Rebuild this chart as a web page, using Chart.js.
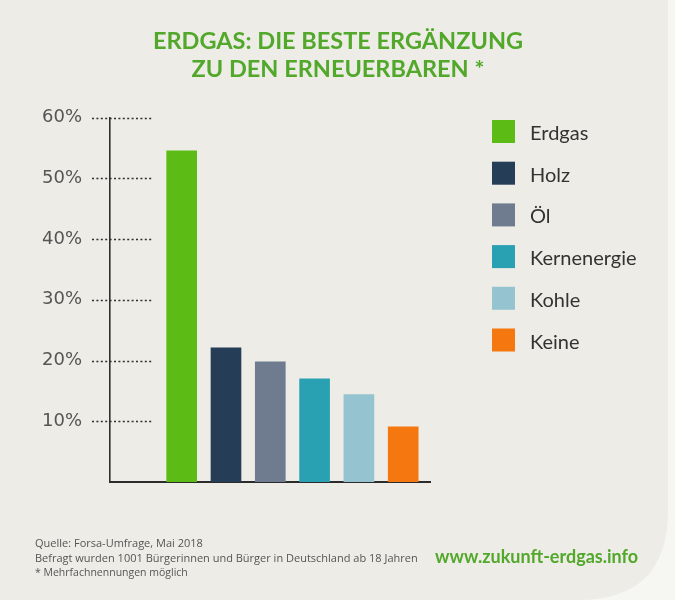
<!DOCTYPE html>
<html>
<head>
<meta charset="utf-8">
<script src="https://cdn.jsdelivr.net/npm/chart.js@4.4.0/dist/chart.umd.min.js"></script>
<style>
  html, body { margin: 0; padding: 0; background: #f6f6f3; }
  #wrap { position: relative; width: 675px; height: 600px; }
</style>
</head>
<body>
<div id="wrap"><canvas id="chart"></canvas></div>
<script>
const categories = ['Erdgas', 'Holz', 'Öl', 'Kernenergie', 'Kohle', 'Keine'];
const shares = [54.5, 22.1, 19.8, 17.0, 14.4, 9.1];
const barColors = ['#5dbb16', '#263d57', '#6f7c90', '#2aa1b2', '#95c4d0', '#f4780f'];
const tickLabels = ['', '10%', '20%', '30%', '40%', '50%', '60%'];
const titleLines = ['ERDGAS: DIE BESTE ERGÄNZUNG', 'ZU DEN ERNEUERBAREN *'];
const footnotes = [
    'Quelle: Forsa-Umfrage, Mai 2018',
    'Befragt wurden 1001 Bürgerinnen und Bürger in Deutschland ab 18 Jahren',
    '* Mehrfachnennungen möglich'
];
const sourceUrl = 'www.zukunft-erdgas.info';

const GREEN_TEXT = '#52a82a';

// beige card with a rounded bottom-right corner
const backgroundPlugin = {
    id: 'cardBackground',
    beforeDraw(chart) {
        const ctx = chart.ctx;
        const w = 668, h = 600, r = 90;
        ctx.save();
        ctx.fillStyle = '#f6f6f3';
        ctx.fillRect(0, 0, chart.width, chart.height);
        ctx.fillStyle = '#edece6';
        ctx.beginPath();
        ctx.moveTo(0, 0);
        ctx.lineTo(w, 0);
        ctx.lineTo(w, h - r);
        ctx.quadraticCurveTo(w, h, w - r, h);
        ctx.lineTo(0, h);
        ctx.closePath();
        ctx.fill();
        ctx.restore();
    }
};

// short dotted grid lines around the y axis
const shortGridPlugin = {
    id: 'shortGrid',
    beforeDatasetsDraw(chart) {
        const ctx = chart.ctx;
        const y = chart.scales.y;
        const left = chart.chartArea.left;
        ctx.save();
        ctx.strokeStyle = '#2f2f2f';
        ctx.lineWidth = 1.6;
        ctx.setLineDash([2, 2.4]);
        y.ticks.forEach(t => {
            if (t.value === 0) return;
            const py = Math.round(y.getPixelForValue(t.value)) + 0.5;
            ctx.beginPath();
            ctx.moveTo(left - 18, py);
            ctx.lineTo(left + 42, py);
            ctx.stroke();
        });
        ctx.restore();
    }
};

// title, legend and footer texts
const textPlugin = {
    id: 'texts',
    afterDraw(chart) {
        const ctx = chart.ctx;
        ctx.save();
        ctx.textBaseline = 'alphabetic';

        ctx.fillStyle = GREEN_TEXT;
        ctx.font = 'bold 23.5px Lato';
        ctx.textAlign = 'center';
        ctx.fillText(titleLines[0], 338, 49);
        ctx.fillText(titleLines[1], 338, 77);

        ctx.textAlign = 'left';
        ctx.font = '20px Lato';
        chart.data.datasets.forEach((ds, i) => {
            const top = 120 + i * 41.7;
            ctx.fillStyle = ds.backgroundColor;
            ctx.fillRect(492, top, 23, 23);
            ctx.fillStyle = '#333333';
            ctx.fillText(ds.label, 530, top + 20);
        });

        ctx.fillStyle = '#555555';
        ctx.font = '11px "Open Sans"';
        ctx.fillText(footnotes[0], 35, 547);
        ctx.fillText(footnotes[1], 35, 562);
        ctx.font = '10.5px "Open Sans"';
        ctx.fillText(footnotes[2], 35, 576);

        ctx.fillStyle = GREEN_TEXT;
        ctx.font = 'bold 18px Lato';
        ctx.fillText(sourceUrl, 435, 562.5);
        ctx.restore();
    }
};

new Chart(document.getElementById('chart'), {
    type: 'bar',
    data: {
        datasets: categories.map((name, i) => ({
            label: name,
            data: [{ x: i, y: shares[i] }],
            backgroundColor: barColors[i],
            grouped: false,
            barThickness: 30
        }))
    },
    options: {
        responsive: true,
        maintainAspectRatio: false,
        animation: false,
        devicePixelRatio: 1,
        layout: { padding: { left: 0, right: 245, top: 117.5, bottom: 118 } },
        plugins: {
            legend: { display: false },
            title: { display: false },
            tooltip: { enabled: false }
        },
        scales: {
            x: {
                type: 'linear',
                min: -1.618,
                max: 5.605,
                offset: false,
                ticks: { display: false },
                grid: { display: false, drawTicks: false },
                border: { display: true, color: '#2b2b2b', width: 2 },
                afterFit: s => { s.height = 0; }
            },
            y: {
                min: 0,
                max: 60,
                ticks: {
                    stepSize: 10,
                    padding: 28,
                    color: '#555555',
                    font: { family: 'DejaVu Sans', size: 18 },
                    callback: (v, i) => tickLabels[i]
                },
                grid: { display: false, drawTicks: false },
                border: { display: true, color: '#2f2f2f', width: 1.6, dash: [2, 2.4] },
                afterFit: s => { s.width = 110; }
            }
        }
    },
    plugins: [backgroundPlugin, shortGridPlugin, textPlugin]
});
</script>
</body>
</html>
